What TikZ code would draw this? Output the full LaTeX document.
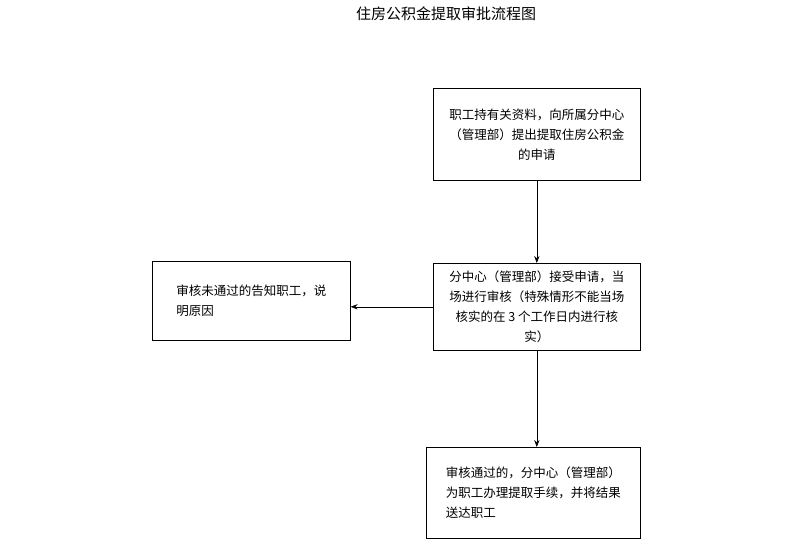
\documentclass[tikz,border=0pt]{standalone}
\usepackage{fontspec}
\setmainfont{Noto Sans CJK SC}
\usetikzlibrary{arrows.meta}
\begin{document}
\begin{tikzpicture}[x=1pt, y=-1pt,
    every node/.style={draw, semithick, align=center, font=\fontsize{12.5}{20}\selectfont, inner sep=6pt},
    flowbox/.style={minimum width=207pt, minimum height=92pt},
    flowarrow/.style={semithick, -{Stealth[length=7pt]}}]
    \useasboundingbox (0,0) rectangle (800,550);

    % --- Title ---
    \node[draw=none, font=\fontsize{15}{18}\selectfont] (title) at (446,14) {住房公积金提取审批流程图};

    % --- Flow boxes ---
    \node[flowbox, anchor=north west] (apply) at (433,88)
        {职工持有关资料，向所属分中心\\（管理部）提出提取住房公积金\\的申请};
    \node[flowbox, minimum height=87pt, anchor=north west] (review) at (433,263)
        {分中心（管理部）接受申请，当\\场进行审核（特殊情形不能当场\\核实的在 3 个工作日内进行核\\实）};
    \node[flowbox, minimum width=214pt, minimum height=91pt, anchor=north west, align=left] (handle) at (426,447)
        {审核通过的，分中心（管理部）\\为职工办理提取手续，并将结果\\送达职工};
    \node[flowbox, minimum width=198pt, minimum height=79pt, anchor=north west, align=left] (reject) at (152,261)
        {审核未通过的告知职工，说\\明原因};

    % --- Connectors ---
    \draw[flowarrow] (apply) -- (review);
    \draw[flowarrow] (review.west) -- (reject.east |- review.west);
    \draw[flowarrow] (review) -- (review |- handle.north);
\end{tikzpicture}
\end{document}
